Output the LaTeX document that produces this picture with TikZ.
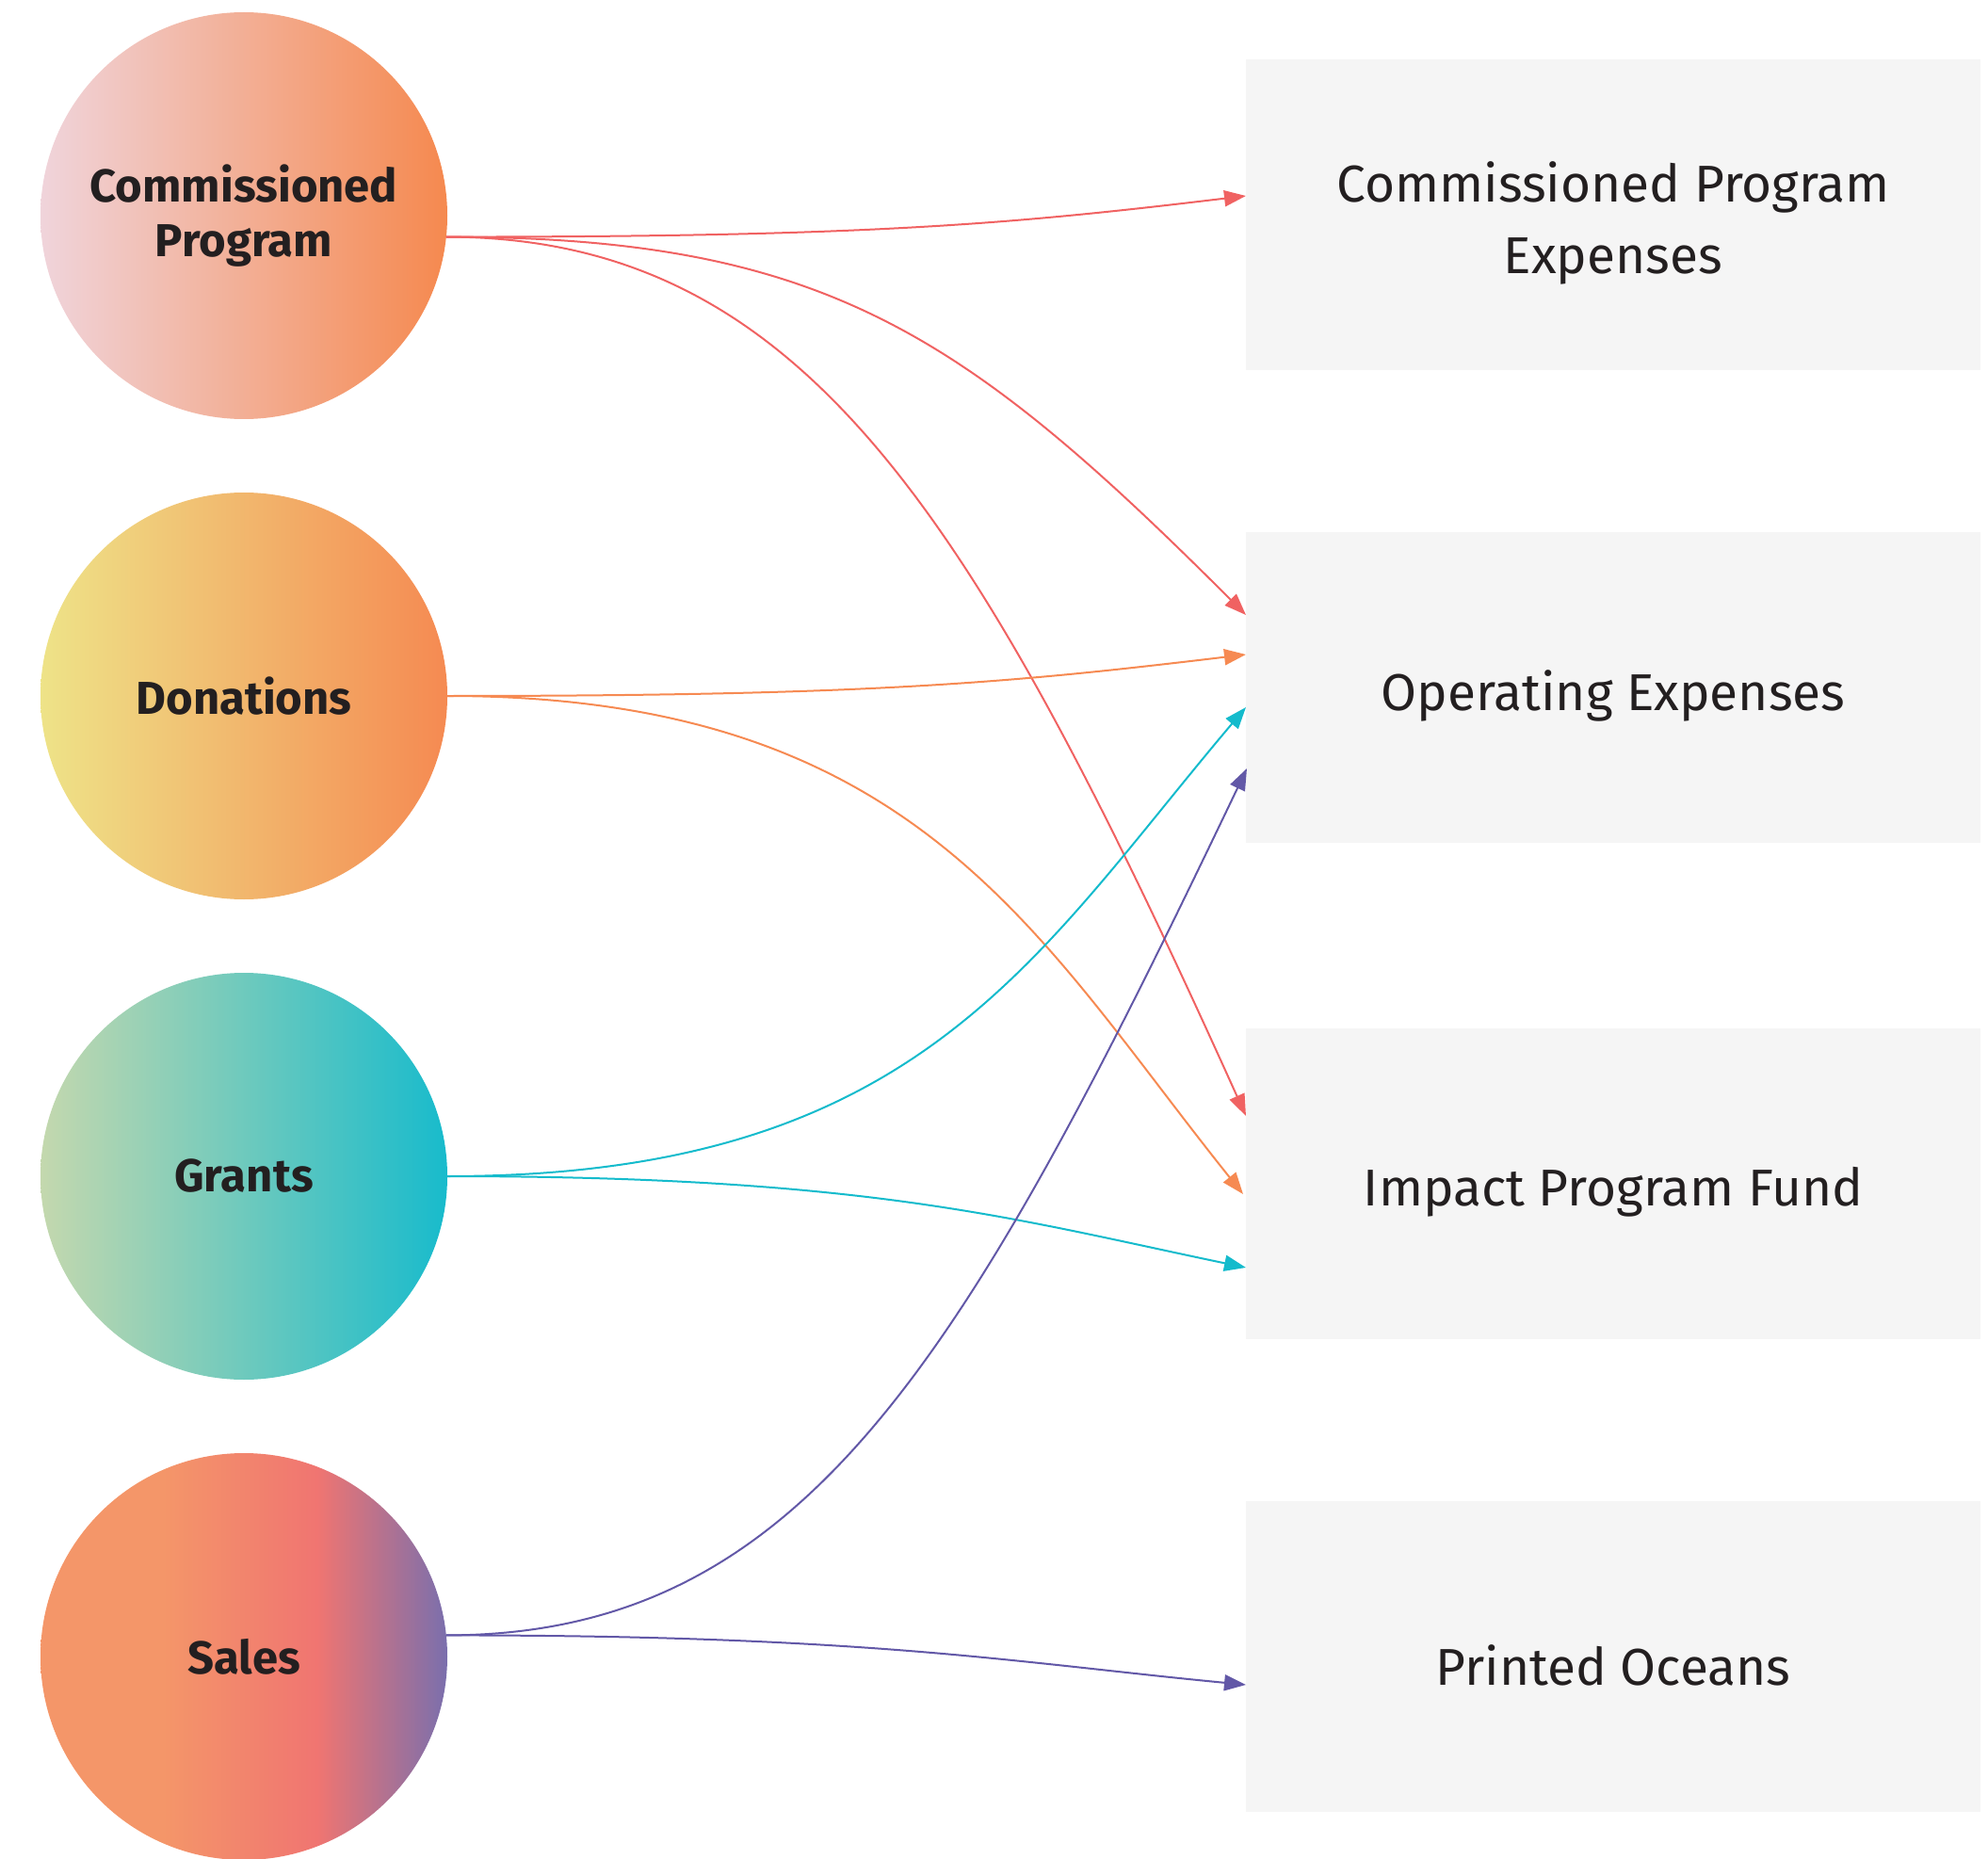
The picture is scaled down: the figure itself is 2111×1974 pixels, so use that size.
\documentclass[tikz,border=0pt]{standalone}
\usepackage{fontspec}
\setmainfont{Fira Sans}
\usetikzlibrary{arrows.meta,positioning}

\definecolor{ink}{HTML}{231F20}
\definecolor{boxgray}{HTML}{F5F5F5}
\definecolor{cpred}{HTML}{F06262}
\definecolor{donorange}{HTML}{F68A52}
\definecolor{grteal}{HTML}{14BBCC}
\definecolor{salpurple}{HTML}{6258A7}
\definecolor{cpL}{HTML}{F0D4DB}
\definecolor{cpR}{HTML}{F5894F}
\definecolor{donL}{HTML}{EEE388}
\definecolor{donR}{HTML}{F58A52}
\definecolor{grL}{HTML}{C4D8AE}
\definecolor{grR}{HTML}{18BBCC}
\definecolor{salA}{HTML}{F49669}
\definecolor{salB}{HTML}{F07571}
\definecolor{salC}{HTML}{7A6FAD}

\pgfdeclarehorizontalshading{cpshade}{100bp}{color(0bp)=(cpL); color(25bp)=(cpL); color(75bp)=(cpR); color(100bp)=(cpR)}
\pgfdeclarehorizontalshading{donshade}{100bp}{color(0bp)=(donL); color(25bp)=(donL); color(75bp)=(donR); color(100bp)=(donR)}
\pgfdeclarehorizontalshading{grshade}{100bp}{color(0bp)=(grL); color(25bp)=(grL); color(75bp)=(grR); color(100bp)=(grR)}
\pgfdeclarehorizontalshading{salshade}{100bp}{color(0bp)=(salA); color(40bp)=(salA); color(59bp)=(salB); color(75bp)=(salC); color(100bp)=(salC)}

\begin{document}
\begin{tikzpicture}[x=0.5pt,y=-0.5pt,>={Triangle[length=11.5pt,width=8.5pt]},
                    line width=1pt,node distance=39pt]
  \tikzstyle{source}=[circle,shade,minimum size=216pt,inner sep=0pt,outer sep=0pt,
                      align=center,text=ink,font=\fontsize{24.5}{29}\selectfont\bfseries]
  \tikzstyle{target}=[rectangle,fill=boxgray,minimum width=390pt,minimum height=165pt,
                      inner sep=0pt,outer sep=0pt]
  \tikzstyle{boxtext}=[align=center,text=ink,inner sep=0pt,yshift=-4.5pt,
                       font=\fontsize{27.5}{38}\selectfont]
  \tikzstyle{flow}=[->]

  \useasboundingbox (0,0) rectangle (2111,1974);

  \node[source,shading=cpshade] (cp) at (259,229) {Commissioned\\Program};
  \node[source,shading=donshade] (don) [below=of cp] {Donations};
  \node[source,shading=grshade] (gr) [below=of don] {Grants};
  \node[source,shading=salshade] (sal) [below=of gr] {Sales};

  \node[target,label={[boxtext]center:{Commissioned Program\\Expenses}}] (cpe) at (1713,228) {};
  \node[target,label={[boxtext]center:{Operating Expenses}}] (opx) at (1713,730) {};
  \node[target,label={[boxtext]center:{Impact Program Fund}}] (ipf) at (1713,1257) {};
  \node[target,label={[boxtext]center:{Printed Oceans}}] (pro) at (1713,1759) {};

  % commissioned program
  \draw[flow,cpred] (cp.-6) .. controls +(450,0) and +(-250,30) .. ([shift={(0,-20)}]cpe.west);
  \draw[flow,cpred] (cp.-6) .. controls +(400,0) and +(-300,-300) .. ([shift={(0,-77)}]opx.west);
  \draw[flow,cpred] (cp.-6) .. controls +(380,0) and +(-288,-638) .. ([shift={(0,-72)}]ipf.west);
  % donations
  \draw[flow,donorange] (don.east) .. controls +(450,0) and +(-250,30) .. ([shift={(0,-35)}]opx.west);
  \draw[flow,donorange] (don.east) .. controls +(500,0) and +(-219,-273) .. ([shift={(-3,11)}]ipf.west);
  % grants
  \draw[flow,grteal] (gr.east) .. controls +(500,0) and +(-226,267) .. ([shift={(0,21)}]opx.west);
  \draw[flow,grteal] (gr.east) .. controls +(450,0) and +(-245,-51) .. ([shift={(0,89)}]ipf.west);
  % sales
  \draw[flow,salpurple] (sal.6) .. controls +(380,0) and +(-301,630) .. ([shift={(1,86)}]opx.west);
  \draw[flow,salpurple] (sal.6) .. controls +(450,0) and +(-249,-24) .. ([shift={(0,30)}]pro.west);
\end{tikzpicture}
\end{document}
